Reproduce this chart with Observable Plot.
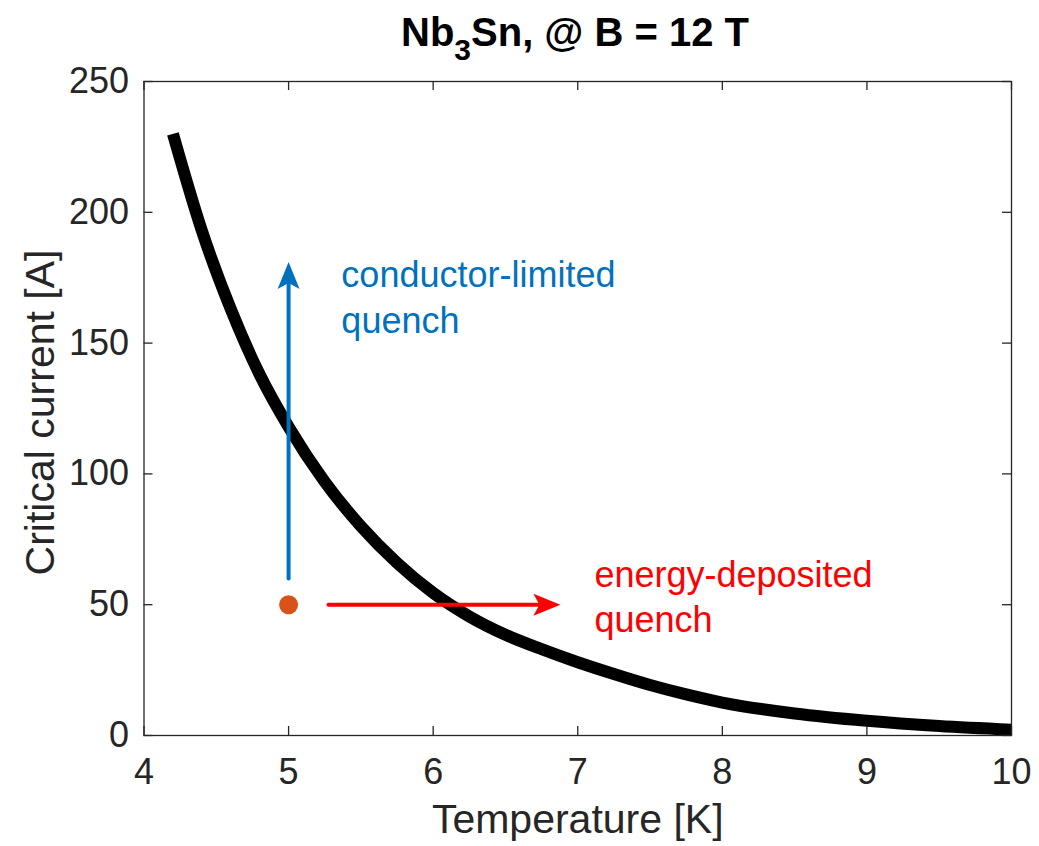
<!DOCTYPE html>
<html>
<head>
<meta charset="utf-8">
<script src="https://cdn.jsdelivr.net/npm/d3@7"></script>
<script src="https://cdn.jsdelivr.net/npm/@observablehq/plot@0.6"></script>
<style>
  html, body { margin: 0; padding: 0; background: #fff; }
  #chart svg { display: block; }
</style>
</head>
<body>
<div id="chart"></div>
<script>
// Critical current curve (Nb3Sn @ 12 T)
const temperature = [4.2, 4.4, 4.6, 4.8, 5.0, 5.25, 5.5, 5.75, 6.0, 6.25, 6.5, 6.75, 7.0, 7.25, 7.5, 7.75, 8.0, 8.5, 9.0, 9.5, 10.0];
const criticalCurrent = [230, 193, 163, 138, 118, 97, 80, 66, 54.5, 45.5, 38.5, 33, 28, 23.5, 19.3, 15.7, 12.6, 8.4, 5.6, 3.6, 2.2];

const xTicks = [4, 5, 6, 7, 8, 9, 10];
const yTicks = [0, 50, 100, 150, 200, 250];

// Annotations
const operatingPoint = [{T: 5, I: 50}];
const conductorArrow = [{T1: 5, I1: 60, T2: 5, I2: 181}];
const energyArrow = [{T1: 5.276, I1: 50, T2: 6.88, I2: 50}];
const labels = [
  {T: 5.365, I: 154, text: "conductor-limited\nquench", color: "#0072BD"},
  {T: 7.115, I: 39.4, text: "energy-deposited\nquench", color: "#FF0000"}
];

const curve = temperature.map((t, i) => ({T: t, I: criticalCurrent[i]}));

const W = 1039, H = 846;
const mL = 143.5, mR = 28, mT = 81, mB = 111;
const plotW = W - mL - mR, plotH = H - mT - mB;
const tickLen = 9;
const axisColor = "#262626";
const font = "'Liberation Sans', Arial, Helvetica, sans-serif";

// MATLAB-like "vback2" arrowhead, tip at origin pointing up
const arrowHead = {
  draw(context) {
    context.moveTo(0, 0);
    context.lineTo(-11, 27);
    context.lineTo(0, 21);
    context.lineTo(11, 27);
    context.closePath();
  }
};

const heads = [
  {T: 5, I: 181, rot: 0, color: "#0072BD"},
  {T: 6.88, I: 50, rot: 90, color: "#FF0000"}
];

const chart = Plot.plot({
  width: W,
  height: H,
  marginLeft: mL,
  marginRight: mR,
  marginTop: mT,
  marginBottom: mB,
  style: {fontFamily: font, background: "#fff", overflow: "visible"},
  x: {domain: [4, 10]},
  y: {domain: [0, 250]},
  marks: [
    Plot.line(curve, {x: "T", y: "I", stroke: "black", strokeWidth: 12, strokeLinecap: "butt", strokeLinejoin: "round", curve: "monotone-x"}),
    Plot.arrow(conductorArrow, {x1: "T1", y1: "I1", x2: "T2", y2: "I2", stroke: "#0072BD", strokeWidth: 4, headLength: 0, insetEnd: 12}),
    Plot.arrow(energyArrow, {x1: "T1", y1: "I1", x2: "T2", y2: "I2", stroke: "#FF0000", strokeWidth: 4, headLength: 0, insetEnd: 12}),
    Plot.dot(heads, {x: "T", y: "I", symbol: arrowHead, rotate: "rot", fill: "color", stroke: "none", r: 10}),
    Plot.dot(operatingPoint, {x: "T", y: "I", r: 9.5, fill: "#D95319", stroke: "none"}),
    Plot.text(labels, {x: "T", y: "I", text: "text", fill: "color", fontSize: 36, textAnchor: "start", lineAnchor: "bottom", lineHeight: 1.27}),
    Plot.frame({stroke: axisColor, strokeWidth: 1.3}),
    // inward ticks on all four sides
    Plot.tickX(xTicks, {x: d => d, stroke: axisColor, strokeWidth: 1.3, insetTop: plotH - tickLen}),
    Plot.tickX(xTicks, {x: d => d, stroke: axisColor, strokeWidth: 1.3, insetBottom: plotH - tickLen}),
    Plot.tickY(yTicks, {y: d => d, stroke: axisColor, strokeWidth: 1.3, insetRight: plotW - tickLen}),
    Plot.tickY(yTicks, {y: d => d, stroke: axisColor, strokeWidth: 1.3, insetLeft: plotW - tickLen}),
    Plot.axisX({ticks: xTicks, tickFormat: d => String(d), tickSize: 0, tickPadding: 23, fontSize: 36, color: axisColor, label: null}),
    Plot.axisY({ticks: yTicks, tickFormat: d => String(d), tickSize: 0, tickPadding: 15, fontSize: 36, color: axisColor, label: null}),
    Plot.text(["Temperature [K]"], {frameAnchor: "bottom", dy: 97.5, textAnchor: "middle", lineAnchor: "bottom", fontSize: 41, fill: axisColor}),
    Plot.text(["Critical current [A]"], {frameAnchor: "left", rotate: -90, dx: -90.5, dy: 4, textAnchor: "middle", lineAnchor: "bottom", fontSize: 41, fill: axisColor})
  ]
});

// Title with subscript
const svg = d3.select(chart);
const title = svg.append("text")
  .attr("x", 575)
  .attr("y", 46)
  .attr("text-anchor", "middle")
  .attr("font-family", font)
  .attr("font-weight", "bold")
  .attr("font-size", 40)
  .attr("fill", "#000");
title.append("tspan").text("Nb");
title.append("tspan").attr("font-size", 30).attr("dy", 14).text("3");
title.append("tspan").attr("dy", -14).text("Sn, @ B = 12 T");

document.getElementById("chart").appendChild(chart);
</script>
</body>
</html>
